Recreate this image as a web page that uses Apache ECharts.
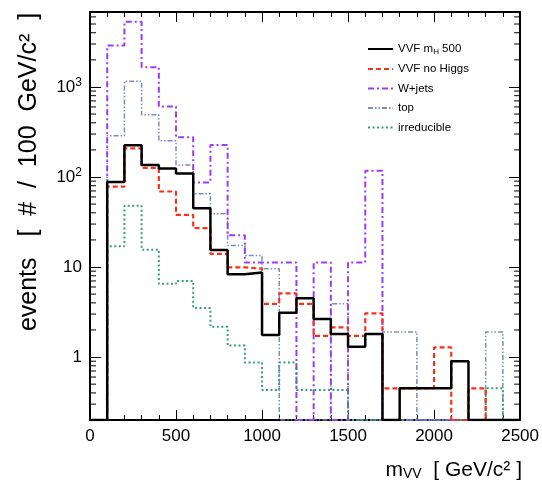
<!DOCTYPE html>
<html>
<head>
<meta charset="utf-8">
<script src="https://cdn.jsdelivr.net/npm/echarts@6/dist/echarts.min.js"></script>
<style>
html, body { margin: 0; padding: 0; background: #fff; }
#main { width: 542px; height: 483px; }
</style>
</head>
<body>
<div id="main"></div>
<script>
// bin edges of m_VV, 100 GeV/c^2 bins
var binEdges = [0, 100, 200, 300, 400, 500, 600, 700, 800, 900, 1000, 1100, 1200,
                1300, 1400, 1500, 1600, 1700, 1800, 1900, 2000, 2100, 2200, 2300, 2400, 2500];

// events per bin
var vvfH500   = [0, 88, 225, 136, 124, 109, 45, 15.5, 8.3, 8.7, 1.76, 3.1, 4.5, 2.65, 1.8, 1.3, 1.8, 0, 0.45, 0.45, 0.45, 0.9, 0, 0, 0];
var vvfNoH    = [0, 78, 208, 126, 69, 38, 27, 14, 9.9, 9.6, 3.9, 5.1, 3.9, 1.72, 2.14, 1.72, 3.06, 0.45, 0.45, 0.45, 1.28, 0, 0.45, 0, 0];
var wJets     = [0, 2880, 5300, 1660, 605, 276, 87, 227, 22.5, 11.2, 11.2, 11.2, 0, 11.2, 0, 11.2, 117, 0, 0, 0, 0, 0, 0, 0, 0];
var topBkg    = [0, 288, 1160, 490, 253, 136, 65, 39, 17.3, 13.4, 9.6, 0, 0, 0, 3.9, 0, 0, 1.9, 1.9, 0, 0, 0, 0, 1.9, 0];
var irreducib = [0, 17, 48, 15.6, 6.5, 7.0, 3.5, 2.17, 1.34, 0.87, 0.43, 0.87, 0.43, 0.43, 0.43, 0, 0, 0, 0, 0, 0, 0, 0, 0.45, 0];

var names = ['VVF mH 500', 'VVF no Higgs', 'W+jets', 'top', 'irreducible'];

var YMIN = 0.2, YMAX = 6800;

// histogram outline: one point per bin edge, step 'end'
function histPoints(vals) {
    var pts = [];
    for (var i = 0; i < vals.length; i++) {
        pts.push([binEdges[i], vals[i] > 0 ? vals[i] : YMIN]);
    }
    var last = vals[vals.length - 1];
    pts.push([binEdges[vals.length], last > 0 ? last : YMIN]);
    return pts;
}

// minor ticks of the log axis (2..9 per decade)
var minorY = [];
[0.1, 1, 10, 100, 1000].forEach(function (d) {
    for (var k = 2; k <= 9; k++) {
        var v = d * k;
        if (v > YMIN * 1.01 && v < YMAX) minorY.push([0, v]);
    }
});

var font = 'Liberation Sans';

function histSeries(name, vals, color, width, dash, z) {
    return {
        name: name,
        type: 'line',
        step: 'end',
        symbol: 'none',
        z: z,
        data: histPoints(vals),
        lineStyle: { color: color, width: width, type: dash },
        itemStyle: { color: color }
    };
}

function xAxisDef(pos) {
    return {
        type: 'value', min: 0, max: 2500, interval: 500, position: pos,
        axisLine: { show: true, onZero: false, lineStyle: { color: '#000', width: 2 } },
        axisTick: { show: true, inside: true, length: 10, lineStyle: { color: '#000', width: 1 } },
        minorTick: { show: true, splitNumber: 5, length: 5, lineStyle: { color: '#000', width: 1 } },
        axisLabel: {
            show: pos === 'bottom', margin: 8, fontSize: 17, fontFamily: font, color: '#000',
            formatter: function (v) { return String(v); }
        },
        splitLine: { show: false }, minorSplitLine: { show: false }
    };
}

function yAxisDef(pos) {
    return {
        type: 'log', logBase: 10, min: YMIN, max: YMAX, position: pos,
        axisLine: { show: true, onZero: false, lineStyle: { color: '#000', width: 2 } },
        axisTick: { show: true, inside: true, length: 11, lineStyle: { color: '#000', width: 1 } },
        axisLabel: {
            show: pos === 'left', margin: 8, fontSize: 17, fontFamily: font, color: '#000',
            showMinLabel: false, showMaxLabel: false,
            formatter: function (v) {
                var l = Math.log10(v), e = Math.round(l);
                if (Math.abs(l - e) > 1e-6) return '';
                if (e === 0) return '1';
                if (e === 1) return '10';
                return '10{sup|' + e + '}';
            },
            rich: { sup: { fontSize: 12, fontFamily: font, color: '#000', verticalAlign: 'top', padding: [0, 0, 9, 0] } }
        },
        splitLine: { show: false }
    };
}

var chart = echarts.init(document.getElementById('main'));
chart.setOption({
    animation: false,
    backgroundColor: '#fff',
    grid: { left: 90, right: 21, top: 12, bottom: 63 },
    legend: {
        orient: 'vertical', left: 367, top: 43, padding: 0,
        itemWidth: 25, itemHeight: 10, itemGap: 7.5,
        itemStyle: { opacity: 0 },
        data: names,
        formatter: function (n) { return n === 'VVF mH 500' ? 'VVF m{sub|H} 500' : n; },
        textStyle: {
            fontFamily: font, fontSize: 11.5, color: '#000',
            rich: { sub: { fontSize: 8, fontFamily: font, color: '#000', verticalAlign: 'bottom', padding: [5, 0, 0, 0] } }
        }
    },
    xAxis: [xAxisDef('bottom'), xAxisDef('top')],
    yAxis: [yAxisDef('left'), yAxisDef('right')],
    graphic: [
        {
            type: 'text', x: 29, y: 172, rotation: Math.PI / 2,
            style: {
                text: 'events   [  #  /  100  GeV/c\u00b2  ]',
                font: '25px "Liberation Sans"', fill: '#000',
                align: 'center', verticalAlign: 'middle'
            }
        },
        {
            type: 'text', x: 522, y: 470,
            style: {
                text: '{n|m}{s|VV}{n|  [ GeV/c\u00b2 ]}',
                align: 'right', verticalAlign: 'middle',
                rich: {
                    n: { fontSize: 21, fontFamily: font, fill: '#000' },
                    s: { fontSize: 14, fontFamily: font, fill: '#000', verticalAlign: 'bottom', padding: [8, 0, 0, 0] }
                }
            }
        }
    ],
    series: [
        histSeries(names[3], topBkg, '#7f89c4', 1.5, [5, 2, 1.5, 2, 1.5, 2], 2),
        histSeries(names[2], wJets, '#9a3cf5', 2, [6, 3, 2, 3], 3),
        histSeries(names[4], irreducib, '#35a077', 2, [2, 2.5], 4),
        histSeries(names[1], vvfNoH, '#f8311c', 2.2, [5, 3], 5),
        histSeries(names[0], vvfH500, '#000000', 2.5, 'solid', 6),
        {
            type: 'custom', silent: true, z: 10, clip: false,
            data: minorY,
            renderItem: function (params, api) {
                var v = api.value(1);
                var l = api.coord([0, v]);
                var r = api.coord([2500, v]);
                return {
                    type: 'group',
                    children: [
                        { type: 'line', shape: { x1: l[0], y1: l[1], x2: l[0] + 6, y2: l[1] }, style: { stroke: '#000', lineWidth: 1 } },
                        { type: 'line', shape: { x1: r[0], y1: r[1], x2: r[0] - 6, y2: r[1] }, style: { stroke: '#000', lineWidth: 1 } }
                    ]
                };
            }
        }
    ]
});
</script>
</body>
</html>
